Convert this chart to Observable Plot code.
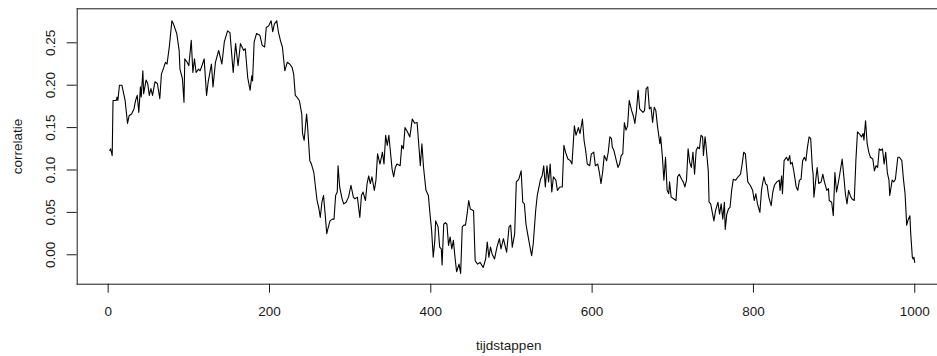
<!DOCTYPE html>
<html><head><meta charset="utf-8">
<script src="https://cdn.jsdelivr.net/npm/d3@7"></script>
<script src="https://cdn.jsdelivr.net/npm/@observablehq/plot@0.6"></script>
<style>body{margin:0;background:#fff} svg{display:block}</style>
</head><body><div id="chart"></div>
<script>
const steps = [2,3,5,6,10,11,12,14,17,21,24,26,29,32,34,36,38,40,41,43,44,47,49,51,53,55,58,61,64,66,69,71,73,76,79,81,85,88,89,92,94,95,98,100,103,105,107,109,112,114,117,119,122,124,128,130,133,137,141,144,148,151,155,158,161,164,166,168,170,173,176,178,179,181,184,188,191,194,196,199,202,204,206,209,211,214,216,219,222,225,228,230,232,234,237,240,241,243,246,247,250,252,255,257,259,261,263,265,267,269,271,272,275,278,280,282,284,285,287,290,292,295,298,301,304,306,309,312,314,316,319,321,323,325,327,330,332,334,337,340,342,344,346,348,350,352,354,356,358,362,364,366,368,371,374,377,380,383,385,387,389,391,394,397,399,401,403,405,406,409,411,413,414,416,418,420,422,424,426,428,430,432,435,437,439,441,443,445,447,449,453,455,458,461,465,468,470,472,474,476,479,482,485,487,490,494,497,499,501,504,506,509,512,514,516,518,520,523,525,527,530,532,536,538,540,542,544,546,548,550,552,555,557,560,563,565,567,570,573,575,578,580,583,585,588,590,592,594,597,599,602,604,607,609,611,613,615,618,620,622,624,625,627,630,632,634,636,638,640,642,644,646,649,651,653,655,657,659,661,663,665,667,669,671,673,675,677,679,681,684,685,687,689,691,693,695,696,698,701,704,706,708,711,713,715,717,719,721,723,725,727,729,731,733,735,737,738,740,741,744,745,747,749,751,753,756,758,760,762,764,765,767,769,771,773,775,778,781,784,786,788,790,793,796,799,801,803,805,808,810,811,813,815,817,819,822,824,826,829,832,833,835,836,838,841,843,845,846,848,850,853,855,857,859,861,863,865,867,869,871,873,874,875,877,879,881,884,886,888,891,893,894,897,899,901,903,905,907,910,912,914,916,918,920,922,925,927,929,931,934,936,937,939,941,943,945,948,950,952,954,956,958,960,962,964,966,968,969,972,974,976,979,981,984,986,988,990,992,994,995,997,998,999,1000];
const values = [0.123,0.125,0.117,0.182,0.182,0.186,0.182,0.200,0.200,0.182,0.155,0.164,0.166,0.172,0.182,0.188,0.168,0.198,0.186,0.217,0.190,0.206,0.202,0.188,0.196,0.188,0.204,0.202,0.184,0.213,0.221,0.227,0.225,0.247,0.276,0.272,0.261,0.241,0.219,0.208,0.180,0.231,0.227,0.223,0.253,0.215,0.231,0.215,0.219,0.217,0.225,0.231,0.188,0.204,0.225,0.198,0.227,0.241,0.225,0.251,0.264,0.262,0.215,0.249,0.223,0.249,0.245,0.241,0.243,0.209,0.194,0.211,0.205,0.251,0.261,0.259,0.247,0.245,0.268,0.270,0.276,0.263,0.272,0.276,0.263,0.251,0.245,0.217,0.227,0.225,0.221,0.213,0.188,0.186,0.182,0.166,0.143,0.135,0.166,0.155,0.111,0.107,0.097,0.080,0.064,0.056,0.044,0.062,0.070,0.048,0.025,0.029,0.040,0.042,0.042,0.070,0.074,0.105,0.080,0.066,0.060,0.062,0.068,0.082,0.068,0.066,0.068,0.044,0.070,0.074,0.064,0.084,0.093,0.084,0.092,0.076,0.088,0.119,0.107,0.121,0.107,0.141,0.129,0.141,0.121,0.101,0.092,0.103,0.107,0.105,0.129,0.125,0.150,0.145,0.139,0.160,0.155,0.156,0.131,0.105,0.131,0.103,0.076,0.070,0.048,0.029,-0.003,0.017,0.040,0.033,0.009,0.007,-0.012,0.036,0.038,0.036,0.011,0.021,0.007,0.017,-0.003,-0.020,-0.011,-0.022,0.033,0.035,0.035,0.048,0.064,0.054,0.052,-0.007,-0.011,-0.009,-0.015,-0.005,0.015,-0.003,0.009,0.001,-0.005,0.009,0.019,0.007,0.019,0.003,0.033,0.035,0.009,0.025,0.086,0.089,0.099,0.062,0.060,0.036,0.025,0.009,-0.001,0.013,0.052,0.070,0.089,0.093,0.105,0.080,0.105,0.086,0.107,0.074,0.092,0.088,0.076,0.080,0.080,0.129,0.121,0.113,0.111,0.107,0.152,0.141,0.150,0.143,0.160,0.135,0.123,0.107,0.105,0.119,0.121,0.105,0.107,0.097,0.084,0.097,0.117,0.111,0.121,0.139,0.137,0.127,0.123,0.111,0.103,0.107,0.117,0.119,0.156,0.147,0.152,0.182,0.170,0.164,0.155,0.170,0.194,0.172,0.170,0.168,0.170,0.196,0.198,0.172,0.174,0.156,0.174,0.170,0.152,0.131,0.139,0.117,0.088,0.115,0.076,0.072,0.086,0.068,0.066,0.064,0.092,0.095,0.089,0.086,0.080,0.088,0.125,0.109,0.103,0.121,0.095,0.123,0.127,0.125,0.141,0.139,0.117,0.139,0.131,0.099,0.062,0.060,0.050,0.040,0.052,0.062,0.048,0.060,0.042,0.062,0.030,0.048,0.054,0.056,0.076,0.089,0.088,0.092,0.095,0.107,0.121,0.119,0.086,0.082,0.076,0.064,0.072,0.060,0.050,0.076,0.082,0.092,0.084,0.082,0.068,0.058,0.074,0.082,0.086,0.088,0.076,0.093,0.072,0.111,0.115,0.111,0.117,0.107,0.109,0.099,0.080,0.076,0.088,0.089,0.111,0.115,0.111,0.127,0.139,0.137,0.103,0.095,0.068,0.086,0.103,0.084,0.086,0.095,0.086,0.076,0.078,0.064,0.062,0.046,0.097,0.074,0.084,0.095,0.113,0.093,0.072,0.060,0.076,0.070,0.066,0.064,0.111,0.145,0.143,0.139,0.143,0.135,0.158,0.131,0.121,0.115,0.113,0.099,0.105,0.103,0.125,0.123,0.125,0.107,0.121,0.097,0.088,0.070,0.088,0.086,0.089,0.115,0.115,0.111,0.089,0.072,0.035,0.042,0.046,0.025,-0.003,-0.005,-0.003,-0.009];
const xTicks = [0, 200, 400, 600, 800, 1000];
const yTicks = [0, 0.05, 0.10, 0.15, 0.20, 0.25];
const yTickLabels = ["0.00", "0.05", "0.10", "0.15", "0.20", "0.25"];
const xLabel = "tijdstappen";
const yLabel = "correlatie";

const data = steps.map((t, i) => ({t, v: values[i]}));
const yLab = yTicks.map((v, i) => ({v, s: yTickLabels[i]}));
const ink = "#1a1a1a";
const fs = 13.5;

const chart = Plot.plot({
  width: 937, height: 356,
  marginLeft: 76.7, marginRight: 0, marginTop: 8.3, marginBottom: 72.3,
  x: {domain: [-38.4, 1028.2]},
  y: {domain: [-0.0347, 0.2901]},
  style: {fontFamily: "'Liberation Sans', Arial, sans-serif", fontSize: fs + "px", color: ink, background: "#fff"},
  marks: [
    Plot.frame({anchor: "left", stroke: ink}),
    Plot.frame({anchor: "top", stroke: ink}),
    Plot.frame({anchor: "bottom", stroke: ink}),
    Plot.axisX(xTicks, {tickSize: 9, tickFormat: () => "", label: null, stroke: ink}),
    Plot.axisY(yTicks, {tickSize: 10, tickFormat: () => "", label: null, stroke: ink}),
    Plot.text(xTicks, {x: d => d, frameAnchor: "bottom", dy: 27, lineAnchor: "middle", text: d => String(d), fill: ink, fontSize: fs}),
    Plot.text(yLab, {y: "v", text: "s", frameAnchor: "left", dx: -26.7, rotate: -90, textAnchor: "middle", lineAnchor: "middle", fill: ink, fontSize: fs}),
    Plot.text([yLabel], {frameAnchor: "left", dx: -60, rotate: -90, textAnchor: "middle", lineAnchor: "middle", fill: ink, fontSize: fs}),
    Plot.text([xLabel], {frameAnchor: "bottom", dy: 61.3, dx: 1.4, lineAnchor: "middle", fill: ink, fontSize: fs}),
    Plot.line(data, {x: "t", y: "v", stroke: "#000", strokeWidth: 1.1})
  ]
});
document.getElementById("chart").append(chart);
</script>
</body></html>
